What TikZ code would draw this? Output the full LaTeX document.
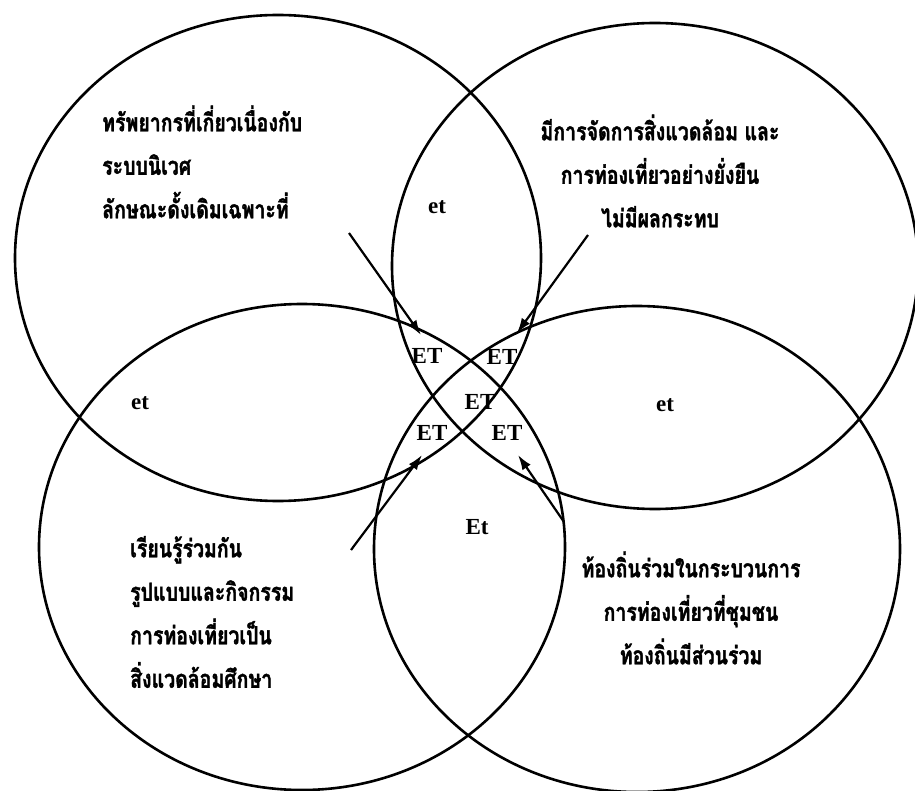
\documentclass[tikz,border=0pt]{standalone}
\usepackage{fontspec}
\setmainfont{Liberation Serif}
\newfontfamily\thaifont[Script=Thai, FakeStretch=0.78, FakeBold=1.5]{Loma}
\usetikzlibrary{shapes.geometric,arrows.meta}
\tikzset{
  ring/.style={draw, ellipse, inner sep=0pt, outer sep=0pt, line width=2.6pt,
    minimum width=526pt, minimum height=486pt},
  thai/.style={font=\thaifont\bfseries\fontsize{25}{43.5}\selectfont, inner sep=0pt},
  lab/.style={font=\bfseries\fontsize{23}{26}\selectfont, inner sep=0pt},
  pointer/.style={line width=2.2pt, -{Latex[length=15pt,width=10pt]}}
}
\begin{document}
\begin{tikzpicture}[x=1pt,y=-1pt]
\useasboundingbox (0,0) rectangle (915,791);
\node[ring] (c1) at (278,258) {};
\node[ring] (c2) at (655,266) {};
\node[ring] (c3) at (302,547) {};
\node[ring] (c4) at (637,549) {};

\node[thai, align=left, anchor=west] (t1) at (102,162)
  {ทรัพยากรที่เกี่ยวเนื่องกับ\\ระบบนิเวศ\\ลักษณะดั้งเดิมเฉพาะที่};
\node[thai, align=center] (t2) at (660,171)
  {มีการจัดการสิ่งแวดล้อม และ\\การท่องเที่ยวอย่างยั่งยืน\\ไม่มีผลกระทบ};
\node[thai, align=left, anchor=west] (t3) at (130,612)
  {เรียนรู้ร่วมกัน\\รูปแบบและกิจกรรม\\การท่องเที่ยวเป็น\\สิ่งแวดล้อมศึกษา};
\node[thai, align=center] (t4) at (691,608)
  {ท้องถิ่นร่วมในกระบวนการ\\การท่องเที่ยวที่ชุมชน\\ท้องถิ่นมีส่วนร่วม};

\node[lab] (e1) at (437,207) {et};
\node[lab] (e2) at (140,403) {et};
\node[lab] (e3) at (665,405) {et};
\node[lab] (e4) at (477,527) {Et};
\node[lab] (x1) at (427,356) {ET};
\node[lab] (x2) at (502,357) {ET};
\node[lab] (x3) at (480,402) {ET};
\node[lab] (x4) at (432,433) {ET};
\node[lab] (x5) at (507,433) {ET};

\coordinate (a1s) at (349,233); \coordinate (a1e) at (421,335);
\coordinate (a2s) at (588,235); \coordinate (a2e) at (517,333);
\coordinate (a3s) at (351,550); \coordinate (a3e) at (422,455);
\coordinate (a4s) at (564,522); \coordinate (a4e) at (518,455);
\draw[pointer] (a1s) -- (a1e);
\draw[pointer] (a2s) -- (a2e);
\draw[pointer] (a3s) -- (a3e);
\draw[pointer] (a4s) -- (a4e);
\end{tikzpicture}
\end{document}
